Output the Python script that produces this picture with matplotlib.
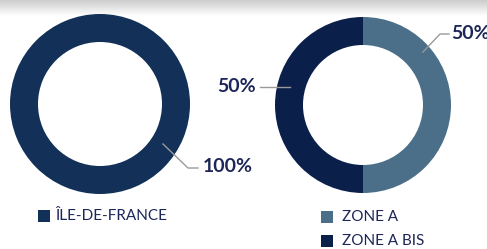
import numpy as np
import matplotlib.pyplot as plt

# data
left_labels = ['ÎLE-DE-FRANCE']
left_values = [100]
right_labels = ['ZONE A', 'ZONE A BIS']
right_values = [50, 50]

c_idf = '#133158'
c_zone_a = '#4b6f89'
c_zone_abis = '#0b1f4b'
c_text = '#1d2658'
c_line = '#9a9a9a'

W, H = 487, 249
fig = plt.figure(figsize=(W / 100, H / 100), dpi=100)
ax = fig.add_axes([0, 0, 1, 1])
ax.axis('off')

# grey shading at the top
grad = np.linspace(0.80, 1.0, 50).reshape(-1, 1)
ax.imshow(grad, cmap='gray', vmin=0, vmax=1, extent=[0, W, H - 16, H], aspect='auto', zorder=0)

# left donut
ax.pie(left_values, colors=[c_idf], center=(100, H - 104), radius=90,
       startangle=90, counterclock=False,
       wedgeprops=dict(width=28, linewidth=0))

# right donut
ax.pie(right_values, colors=[c_zone_a, c_zone_abis], center=(363, H - 105), radius=88,
       startangle=90, counterclock=False,
       wedgeprops=dict(width=28, linewidth=0))
ax.set_xlim(0, W)
ax.set_ylim(0, H)
ax.set_aspect('equal')

# leader lines and labels
lab_font = dict(color=c_text, fontsize=14, fontweight='bold', family='Lato', va='center')
ax.plot([163, 188, 198], [H - 144, H - 168, H - 168], color=c_line, lw=1)
ax.text(203, H - 167, '{}%'.format(left_values[0]), ha='left', **lab_font)

ax.plot([260, 290], [H - 87, H - 87], color=c_line, lw=1)
ax.text(256, H - 86, '{}%'.format(right_values[1]), ha='right', **lab_font)

ax.plot([423, 440, 449], [H - 52, H - 34, H - 34], color=c_line, lw=1)
ax.text(451, H - 33, '{}%'.format(right_values[0]), ha='left', **lab_font)

# legends
leg_font = dict(color=c_text, fontsize=11, family='Lato', va='center')
ax.scatter([44], [H - 216], marker='s', s=65, color=c_idf, linewidths=0)
ax.text(55, H - 216, left_labels[0], **leg_font)

for i, (lab, col) in enumerate(zip(right_labels, [c_zone_a, c_zone_abis])):
    y = H - 217 - 24 * i
    ax.scatter([327], [y], marker='s', s=65, color=col, linewidths=0)
    ax.text(342, y, lab, **leg_font)

fig.savefig('out.png', dpi=100)
